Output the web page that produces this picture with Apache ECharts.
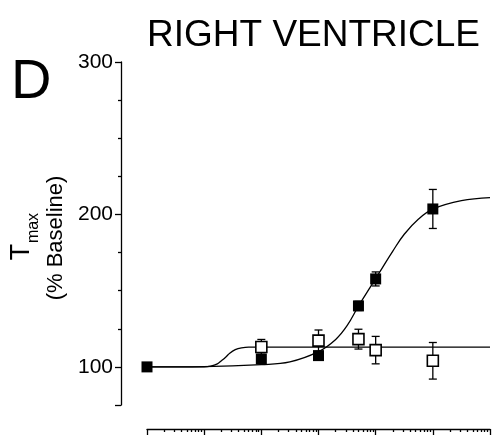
<!DOCTYPE html>
<html><head><meta charset="utf-8">
<script src="https://cdn.jsdelivr.net/npm/echarts@6/dist/echarts.min.js"></script>
<style>html,body{margin:0;padding:0;background:#fff}#c{width:495px;height:435px}</style>
</head><body><div id="c"></div>
<script>
// ---- data ----
// x: dose (arbitrary log units, decades 1 .. 1e6)
var filledX   = [1, 100, 1000, 5000, 10000, 100000];
var filledY   = [100, 105.2, 107.4, 140, 157.7, 203.6];
var filledErr = [0, 3, 2.5, 3, 4.6, 12.8];
var openX     = [100, 1000, 5000, 10000, 100000];
var openY     = [113, 117.2, 118.2, 111, 104];
var openErr   = [5, 7, 6.5, 9, 12];
// fitted curves, points
var filledCurveX = [1, 10, 100, 316, 1000, 2000, 3162, 5012, 7943, 12589, 19953, 31623, 56234, 100000, 316228, 1000000];
var filledCurveY = [100, 100.2, 101.5, 103.3, 110, 118, 127, 140, 152, 164, 176, 187, 197, 203.5, 209, 211];
var openCurveX = [1, 10, 13, 17, 20, 24, 28, 35, 45, 60, 100, 1000000];
var openCurveY = [100, 100, 100.5, 102, 104, 106.5, 109, 111.3, 112.5, 113, 113, 113];
// axis ticks
var yLabelValues = [100, 200, 300];
var yMajorTicks = [75, 100, 200, 300];
var yMinorTicks = [125, 150, 175, 225, 250, 275];
var xDecades = [0, 1, 2, 3, 4, 5];
var xMinorFactors = [2, 3, 4, 5, 6, 7, 8, 9];

function zip(a, b, c) { return a.map(function (v, i) { return c ? [v, b[i], c[i]] : [v, b[i]]; }); }
var xMinorTicks = [];
xDecades.forEach(function (d) { xMinorFactors.forEach(function (f) { xMinorTicks.push(d + Math.log10(f)); }); });

var FONT = 'Liberation Sans, Arial, sans-serif';
var chart = echarts.init(document.getElementById('c'), null, { renderer: 'canvas' });

function errRender(params, api) {
  var x = api.value(0), y = api.value(1), e = api.value(2);
  if (!e) return null;
  var top = api.coord([x, y + e]), bot = api.coord([x, y - e]);
  var cw = 4;
  var st = { stroke: '#000', lineWidth: 1.3 };
  return { type: 'group', children: [
    { type: 'line', shape: { x1: top[0], y1: top[1], x2: bot[0], y2: bot[1] }, style: st },
    { type: 'line', shape: { x1: top[0] - cw, y1: top[1], x2: top[0] + cw, y2: top[1] }, style: st },
    { type: 'line', shape: { x1: bot[0] - cw, y1: bot[1], x2: bot[0] + cw, y2: bot[1] }, style: st }
  ]};
}

var axisLineStyle = { color: '#000', width: 1.3 };
chart.setOption({
  animation: false,
  backgroundColor: '#fff',
  grid: { left: 147, right: 5, top: 62, bottom: 30, containLabel: false },
  xAxis: [
    { type: 'log', logBase: 10, min: 1, max: 1000000, position: 'bottom', offset: 24,
      axisLine: { show: true, onZero: false, lineStyle: axisLineStyle }, axisTick: { show: false },
      axisLabel: { show: false }, splitLine: { show: false } },
    { type: 'value', min: 0, max: 6, interval: 1, position: 'bottom', offset: 24,
      axisLine: { show: false, onZero: false }, axisTick: { show: true, inside: false, length: 6, lineStyle: axisLineStyle },
      axisLabel: { show: false }, splitLine: { show: false } },
    { type: 'value', min: 0, max: 6, position: 'bottom', offset: 24,
      axisLine: { show: false, onZero: false }, axisTick: { show: true, inside: false, length: 3, customValues: xMinorTicks, lineStyle: axisLineStyle },
      axisLabel: { show: false }, splitLine: { show: false } }
  ],
  yAxis: [
    { type: 'value', min: 75, max: 300, position: 'left', offset: 26,
      axisLine: { show: true, onZero: false, lineStyle: axisLineStyle },
      axisTick: { show: true, length: 6, customValues: yMajorTicks, lineStyle: axisLineStyle },
      axisLabel: { show: true, customValues: yLabelValues, color: '#000', fontFamily: FONT, fontSize: 21, margin: 8 },
      splitLine: { show: false } },
    { type: 'value', min: 75, max: 300, position: 'left', offset: 26,
      axisLine: { show: false, onZero: false },
      axisTick: { show: true, length: 3, customValues: yMinorTicks, lineStyle: axisLineStyle },
      axisLabel: { show: false }, splitLine: { show: false } }
  ],
  graphic: [
    { type: 'text', left: 147, top: 17, style: { text: 'RIGHT VENTRICLE', font: '37px ' + FONT, fill: '#000' } },
    { type: 'text', left: 11, top: 55, style: { text: 'D', font: '56px ' + FONT, fill: '#000' } },
    { type: 'text', x: 56, y: 238, rotation: Math.PI / 2,
      style: { text: '(% Baseline)', font: '22px ' + FONT, fill: '#000', textAlign: 'center', textVerticalAlign: 'middle' } },
    { type: 'text', x: 35, y: 252, rotation: Math.PI / 2,
      style: { text: 'T', font: '27px ' + FONT, fill: '#000', textAlign: 'center', textVerticalAlign: 'bottom' } },
    { type: 'text', x: 42, y: 228, rotation: Math.PI / 2,
      style: { text: 'max', font: '16px ' + FONT, fill: '#000', textAlign: 'center', textVerticalAlign: 'bottom' } }
  ],
  series: [
    { type: 'line', xAxisIndex: 0, yAxisIndex: 0, data: zip(filledCurveX, filledCurveY), symbol: 'none',
      smooth: 0.4, lineStyle: { color: '#000', width: 1.3 }, z: 2 },
    { type: 'line', xAxisIndex: 0, yAxisIndex: 0, data: zip(openCurveX, openCurveY), symbol: 'none',
      smooth: 0.4, lineStyle: { color: '#000', width: 1.3 }, z: 2 },
    { type: 'custom', xAxisIndex: 0, yAxisIndex: 0, renderItem: errRender, data: zip(openX, openY, openErr), z: 3 },
    { type: 'custom', xAxisIndex: 0, yAxisIndex: 0, renderItem: errRender, data: zip(filledX, filledY, filledErr), z: 3 },
    { type: 'scatter', xAxisIndex: 0, yAxisIndex: 0, data: zip(openX, openY), symbol: 'rect', symbolSize: 11,
      itemStyle: { color: '#fff', borderColor: '#000', borderWidth: 1.6, opacity: 1 }, z: 4 },
    { type: 'scatter', xAxisIndex: 0, yAxisIndex: 0, data: zip(filledX, filledY), symbol: 'rect', symbolSize: 11,
      itemStyle: { color: '#000', opacity: 1 }, z: 5 }
  ]
});
</script></body></html>
